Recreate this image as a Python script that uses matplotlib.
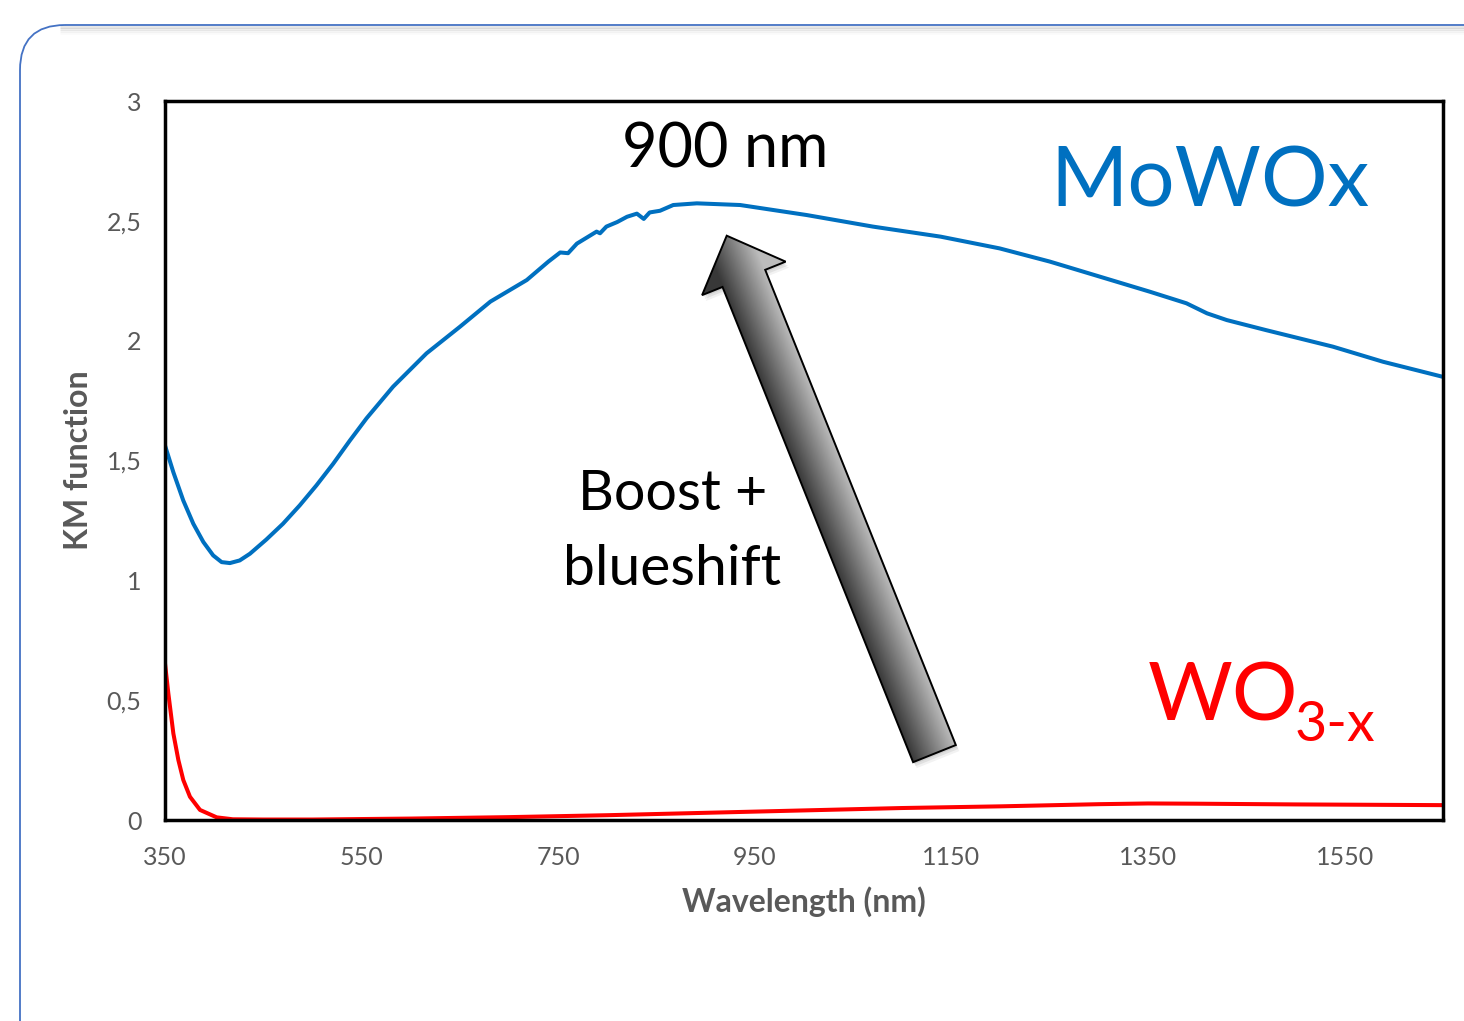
import numpy as np
import matplotlib
matplotlib.use("Agg")
import matplotlib.pyplot as plt
from matplotlib.patches import Polygon, FancyBboxPatch

plt.rcParams['font.family'] = ['Lato', 'DejaVu Sans']

# KM function (wavelength in nm)
mowox_nm = [350, 358.5, 368.6, 378.8, 389, 399, 407.6, 416, 426, 436.4, 453, 470,
            487, 504, 521, 538, 555, 582, 616, 650, 681, 718, 740, 752, 760,
            769, 779, 789, 792.5, 799, 810, 820, 830, 837, 843, 853.5, 867, 891,
            935, 1003, 1070, 1139, 1199, 1250, 1301, 1352, 1389, 1410, 1430,
            1470, 1538, 1589, 1649]
mowox_km = [1.5625, 1.451, 1.333, 1.236, 1.16, 1.104, 1.076, 1.072, 1.083, 1.111,
            1.17, 1.236, 1.3125, 1.396, 1.486, 1.583, 1.676, 1.808, 1.947, 2.058,
            2.163, 2.253, 2.33, 2.368, 2.365, 2.405, 2.43, 2.455, 2.448, 2.476,
            2.495, 2.517, 2.53, 2.508, 2.535, 2.542, 2.566, 2.573, 2.566, 2.524,
            2.476, 2.434, 2.385, 2.33, 2.267, 2.204, 2.156, 2.114, 2.086, 2.044,
            1.975, 1.912, 1.85]

wo3_nm = [350, 353.4, 358.5, 363.6, 368.6, 375.4, 385.6, 402.6, 419, 450, 500,
          600, 700, 800, 900, 1000, 1100, 1200, 1300, 1350, 1400, 1500, 1650]
wo3_km = [0.653, 0.528, 0.361, 0.25, 0.167, 0.097, 0.042, 0.011, 0.003, 0.002,
          0.002, 0.006, 0.012, 0.02, 0.03, 0.04, 0.05, 0.057, 0.066, 0.069,
          0.068, 0.065, 0.062]

x_ticks = [350, 550, 750, 950, 1150, 1350, 1550]
y_ticks = [0, 0.5, 1, 1.5, 2, 2.5, 3]
y_tick_labels = ["0", "0,5", "1", "1,5", "2", "2,5", "3"]

# arrow tail (bottom centre) and tip, in data units
arrow_tail = (1132.7, 0.277)
arrow_tip = (921.4, 2.438)

W, H = 1464, 1021
fig = plt.figure(figsize=(W / 100, H / 100), dpi=100)

ax = fig.add_axes([165 / W, 1 - 820 / H, (1443 - 165) / W, (820 - 101) / H])
ax.plot(mowox_nm, mowox_km, color='#0070C0', lw=2.9, solid_joinstyle='round')
ax.plot(wo3_nm, wo3_km, color='#FF0000', lw=2.9, solid_joinstyle='round')
ax.set_xlim(350, 1650)
ax.set_ylim(0, 3)
ax.set_xticks(x_ticks)
ax.set_yticks(y_ticks)
ax.set_yticklabels(y_tick_labels)
ax.tick_params(length=0, labelsize=18, labelcolor='#595959')
ax.tick_params(axis='x', pad=19)
ax.tick_params(axis='y', pad=17)
for s in ax.spines.values():
    s.set_linewidth(2.5)
    s.set_color('black')
ax.set_xlabel("Wavelength (nm)", fontsize=23, fontweight='bold', color='#595959',
              labelpad=12)
ax.set_ylabel("KM function", fontsize=23, fontweight='bold', color='#595959',
              labelpad=10)

ax.text(0.438, 0.908, "900 nm", transform=ax.transAxes, ha='center',
        va='baseline', fontsize=44, color='black')
ax.text(0.397, 0.431, "Boost +", transform=ax.transAxes, ha='center',
        va='baseline', fontsize=40, color='black')
ax.text(0.397, 0.327, "blueshift", transform=ax.transAxes, ha='center',
        va='baseline', fontsize=41, color='black')
ax.text(0.6925, 0.8526, "MoWOx", transform=ax.transAxes, ha='left',
        va='baseline', fontsize=60, color='#0070C0')
wo = ax.text(0.769, 0.139, "WO", transform=ax.transAxes, ha='left',
             va='baseline', fontsize=59, color='#FF0000')
fig.canvas.draw()
bb = wo.get_window_extent()
fig.text((bb.x1 - 4) / W, (bb.y0 - 7) / H, "3-x", ha='left', va='baseline',
         fontsize=40, color='#FF0000')

# overlay in pixel coordinates for the frame and the arrow
ov = fig.add_axes([0, 0, 1, 1], zorder=3)
ov.set_xlim(0, W)
ov.set_ylim(H, 0)
ov.axis('off')
ov.patch.set_alpha(0)

# rounded slide frame with a soft shadow under the top edge
for i, a in enumerate([0.10, 0.07, 0.04, 0.02]):
    ov.plot([60, W], [27 + i * 2, 27 + i * 2], color='black', alpha=a, lw=2,
            solid_capstyle='butt')
frame = FancyBboxPatch((20, 25), 1600, 1100, boxstyle="round,pad=0,rounding_size=45",
                       fc='none', ec='#4472C4', lw=1.3)
ov.add_patch(frame)

# block arrow with grey gradient
to_px = ax.transData + ov.transData.inverted()
tail = np.array(to_px.transform(arrow_tail))
tip = np.array(to_px.transform(arrow_tip))
d = tip - tail
L = np.hypot(*d)
u = d / L
n = np.array([u[1], -u[0]])  # perpendicular
if n[0] > 0:
    n = -n
half_shaft, half_head, head_len = 23, 45, 46
base = tip - u * head_len
pts = np.array([
    tail + n * half_shaft,
    base + n * half_shaft,
    base + n * half_head,
    tip,
    base - n * half_head,
    base - n * half_shaft,
    tail - n * half_shaft,
])

# faint drop shadow
for k, a in [(6, 0.05), (4, 0.07), (2, 0.08)]:
    ov.add_patch(Polygon(pts + np.array([k * 0.6, k]), closed=True, fc='black',
                         ec='none', alpha=a, zorder=3.5))

x0, x1 = pts[:, 0].min(), pts[:, 0].max()
y0, y1 = pts[:, 1].min(), pts[:, 1].max()
gx, gy = np.meshgrid(np.linspace(x0, x1, 300), np.linspace(y0, y1, 300))
proj = (gx - tail[0]) * n[0] + (gy - tail[1]) * n[1]
t = np.clip((proj + half_shaft) / (2 * half_shaft), 0, 1)
shade = 0.74 - 0.52 * t
img = np.dstack([shade, shade, shade])
im = ov.imshow(img, extent=(x0, x1, y1, y0), interpolation='bilinear', zorder=4,
               aspect='auto')
clip = Polygon(pts, closed=True, transform=ov.transData)
im.set_clip_path(clip)
ov.add_patch(Polygon(pts, closed=True, fc='none', ec='black', lw=1.4,
                     joinstyle='miter', zorder=5))
ov.set_xlim(0, W)
ov.set_ylim(H, 0)

fig.savefig("out.png", dpi=100)
